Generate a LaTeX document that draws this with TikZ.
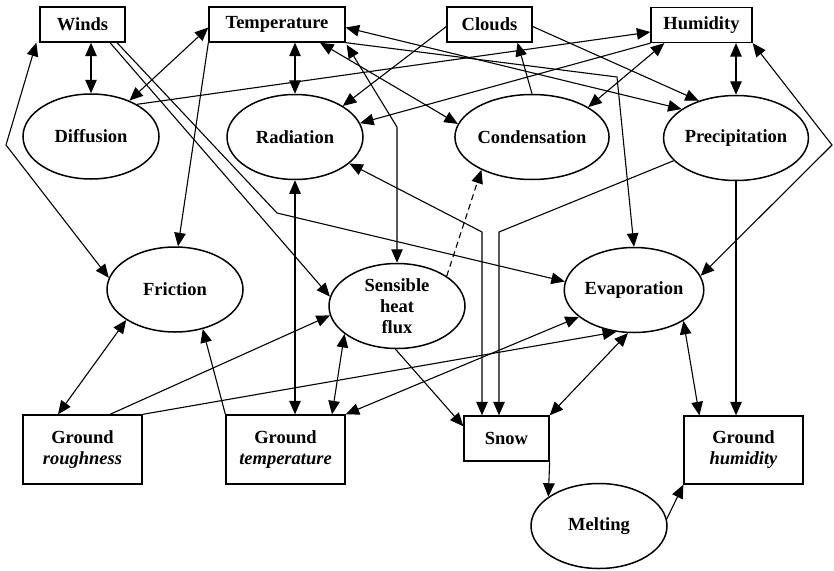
\documentclass[tikz,border=0pt]{standalone}
\usepackage{fontspec}
\setmainfont{Liberation Serif}
\usetikzlibrary{shapes.geometric,arrows.meta,calc}
\newcommand\mylbl{\fontsize{18.5}{21}\selectfont\bfseries}
\begin{document}
\begin{tikzpicture}[x=1pt,y=-1pt,
  box/.style={draw,line width=1.3pt,fill=white,inner sep=0pt,align=center,font=\mylbl},
  ell/.style={draw,ellipse,line width=1.5pt,fill=white,minimum width=136pt,minimum height=85pt,inner sep=0pt,align=center,font=\mylbl},
  con/.style={line width=1.1pt},
  tip/.style={con,-{Triangle[length=13.5pt,width=11.5pt]}},
  both/.style={con,{Triangle[length=13.5pt,width=11.5pt]}-{Triangle[length=13.5pt,width=11.5pt]}},
]
\useasboundingbox (0,0) rectangle (834,570);
% boxes
\node[box,minimum width=85pt,minimum height=35pt] (W) at (82.5,24.5) {Winds};
\node[box,minimum width=136pt,minimum height=35pt] (T) at (277,24.5) {Temperature};
\node[box,minimum width=85pt,minimum height=35pt] (C) at (489.5,24.5) {Clouds};
\node[box,minimum width=101pt,minimum height=35pt] (H) at (701.5,25) {Humidity};
\node[box,minimum width=119pt,minimum height=69pt] (GR) at (82.5,449.5) {Ground\\{\itshape roughness}};
\node[box,minimum width=119pt,minimum height=69pt] (GT) at (285.5,449.5) {Ground\\{\itshape temperature}};
\node[box,minimum width=85pt,minimum height=45pt] (Snow) at (506.5,438.5) {Snow};
\node[box,minimum width=119pt,minimum height=68pt] (GH) at (743.5,450) {Ground\\{\itshape humidity}};
% ellipses
\node[ell] (Dif) at (91,136.5) {Diffusion};
\node[ell] (Rad) at (295,137) {Radiation};
\node[ell] (Con) at (532,137) {Condensation};
\node[ell] (Pre) at (736,138) {Precipitation};
\node[ell] (Fri) at (175,289.5) {Friction};
\node[ell,inner ysep=-8pt] (SHF) at (397,306) {Sensible\\heat\\flux};
\node[ell] (Eva) at (634,290) {Evaporation};
\node[ell] (Mel) at (599,526) {Melting};
% bend points
\coordinate (b1) at (6,145);
\coordinate (b2) at (277,213);
\coordinate (b3) at (397,127);
\coordinate (b4) at (617,77);
\coordinate (b5) at (832,145);
\coordinate (b6) at (499,232);
\coordinate (b7) at (482,232);
% connectors
\draw[both] ([xshift=8.5pt]W.south) -- (Dif.north);
\draw[both] ([xshift=-3pt]W.south west) -- (b1) -- (Fri.170);
\draw[tip] ([xshift=27.5pt]W.south) -- (SHF.172);
\draw[tip] ([xshift=34.5pt]W.south) -- (b2) -- (Eva.173);
\draw[both] ([yshift=-3pt]T.west) -- (Dif.43);
\draw[tip] (Dif.35) -- ([yshift=-7pt]H.west);
\draw[tip] (T.south west) -- (Fri.86);
\draw[both] ([xshift=18pt]T.south) -- (Rad.north);
\draw[both] ([xshift=43pt]T.south) -- (Con.170);
\draw[both] ([xshift=1pt,yshift=-2pt]T.south east) -- (b3) -- (SHF.north);
\draw[both] ([yshift=-3pt]T.east) -- (Pre.152);
\draw[tip] (T.south east) -- (b4) -- (Eva.north);
\draw[tip] ([yshift=-2pt]C.east) -- (Pre.135);
\draw[tip] ([yshift=-2pt]C.west) -- (Rad.33);
\draw[tip] (Con.north) -- ([xshift=28pt]C.south);
\draw[both] ([xshift=14pt]H.south west) -- (Con.28);
\draw[tip] (H.south west) -- (Rad.12);
\draw[both] ([xshift=34.5pt]H.south) -- (Pre.north);
\draw[both] (H.south east) -- (b5) -- (Eva.12);
\draw[tip] (Pre.200) -- (b6) -- (b6 |- Snow.north);
\draw[both] (Rad.334) -- (b7) -- (b7 |- Snow.north);
\draw[tip] (Pre.south) -- (Pre.south |- GH.north);
\draw[both] (Eva.328) -- ([xshift=16pt]GH.north west);
\draw[both] (Eva.262) -- (Snow.north east);
\draw[tip] (SHF.268) -- ([yshift=-11pt]Snow.north west);
\draw[tip,dash pattern=on 6pt off 4pt] (SHF.31) -- (Con.213);
\draw[both] (Rad.south) -- (Rad.south |- GT.north);
\draw[both] (SHF.208) -- ([xshift=46.5pt]GT.north);
\draw[both] (GT.north east) -- (Eva.206);
\draw[tip] (GR.north east) -- (Eva.247);
\draw[tip] ([xshift=27.5pt]GR.north) -- (SHF.188);
\draw[both] ([xshift=-24.5pt]GR.north) -- (Fri.212);
\draw[tip] (GT.north west) -- (Fri.305);
\draw[tip] (Snow.south east) -- (Mel.150);
\draw[tip] (Mel.6) -- (GH.south west);
\end{tikzpicture}
\end{document}
